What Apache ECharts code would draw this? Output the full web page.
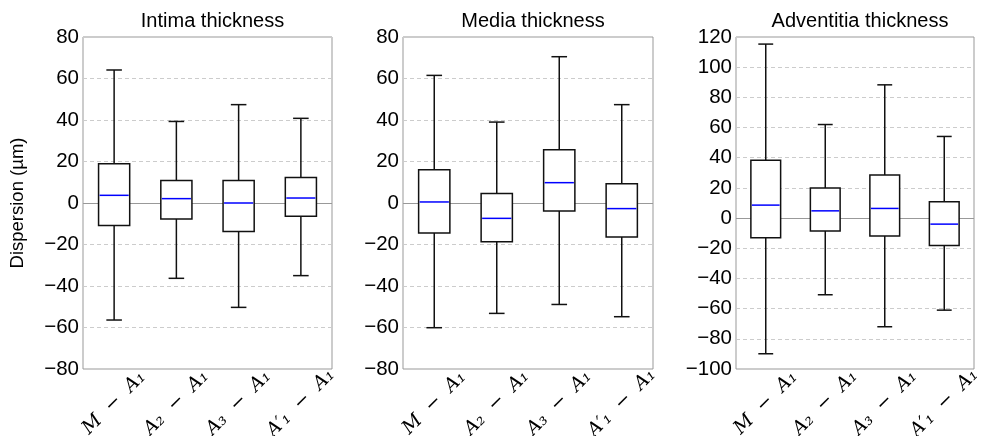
<!DOCTYPE html>
<html>
<head>
<meta charset="utf-8">
<script src="https://cdn.jsdelivr.net/npm/echarts@6/dist/echarts.min.js"></script>
<style>html,body{margin:0;padding:0;background:#fff}#c{width:986px;height:436px}</style>
</head>
<body>
<div id="c"></div>
<script>
// ---- data ----
const categories = ['M − A₁', 'A₂ − A₁', 'A₃ − A₁', 'A′₁ − A₁'];
const panelTitles = ['Intima thickness', 'Media thickness', 'Adventitia thickness'];
const yAxisName = 'Dispersion (µm)';
// each entry: [lower whisker, Q1, median, Q3, upper whisker]
const intima = [
  [-56.4, -10.9, 3.7, 18.9, 64.1],
  [-36.3, -7.7, 2.1, 10.9, 39.3],
  [-50.3, -13.7, 0.0, 10.9, 47.4],
  [-35.0, -6.4, 2.4, 12.3, 40.8]
];
const media = [
  [-60.1, -14.5, 0.5, 16.0, 61.5],
  [-53.2, -18.7, -7.4, 4.6, 39.0],
  [-48.9, -3.9, 9.8, 25.7, 70.5],
  [-54.8, -16.4, -2.7, 9.3, 47.4]
];
const adventitia = [
  [-89.9, -13.1, 8.6, 38.4, 115.3],
  [-50.8, -8.6, 4.8, 19.9, 62.0],
  [-72.0, -11.9, 6.4, 28.5, 88.3],
  [-61.0, -18.2, -4.0, 10.8, 54.1]
];
const yRanges = [[-80, 80], [-80, 80], [-100, 120]];
const yInterval = 20;

// ---- chart ----
const panels = [intima, media, adventitia];
const grids = [
  {left: 83, right: 654, top: 37, bottom: 67},
  {left: 403, right: 333, top: 37, bottom: 67},
  {left: 736, right: 12, top: 37, bottom: 67}
];
const sans = 'Liberation Sans, Arial, sans-serif';

function renderItem(params, api) {
  const x = api.value(0);
  const band = api.size([1, 0])[0];
  const bw = band * 0.5, cw = band * 0.25;
  const pLo = api.coord([x, api.value(1)]);
  const pQ1 = api.coord([x, api.value(2)]);
  const pMd = api.coord([x, api.value(3)]);
  const pQ3 = api.coord([x, api.value(4)]);
  const pHi = api.coord([x, api.value(5)]);
  const cx = pMd[0];
  const ls = {stroke: '#111', lineWidth: 1.5, fill: null};
  return {
    type: 'group',
    children: [
      {type: 'line', shape: {x1: cx, y1: pQ3[1], x2: cx, y2: pHi[1]}, style: ls},
      {type: 'line', shape: {x1: cx, y1: pQ1[1], x2: cx, y2: pLo[1]}, style: ls},
      {type: 'line', shape: {x1: cx - cw / 2, y1: pHi[1], x2: cx + cw / 2, y2: pHi[1]}, style: ls},
      {type: 'line', shape: {x1: cx - cw / 2, y1: pLo[1], x2: cx + cw / 2, y2: pLo[1]}, style: ls},
      {type: 'rect', shape: {x: cx - bw / 2, y: pQ3[1], width: bw, height: pQ1[1] - pQ3[1]},
        style: {stroke: '#111', lineWidth: 1.5, fill: '#fff'}},
      {type: 'line', shape: {x1: cx - bw / 2 + 1, y1: pMd[1], x2: cx + bw / 2 - 1, y2: pMd[1]},
        style: {stroke: '#0000ff', lineWidth: 1.5}}
    ]
  };
}

const option = {
  animation: false,
  backgroundColor: '#fff',
  title: panelTitles.map((t, i) => ({
    text: t,
    left: [207.5, 528, 855][i],
    top: 6,
    textAlign: 'center',
    textStyle: {fontFamily: sans, fontSize: 20, fontWeight: 'normal', color: '#000'}
  })),
  grid: grids.map(g => Object.assign({show: true, borderColor: '#999', borderWidth: 1,
    backgroundColor: '#fff', containLabel: false, outerBoundsMode: 'none'}, g)),
  xAxis: panels.map((p, i) => ({
    type: 'category',
    gridIndex: i,
    data: categories,
    boundaryGap: true,
    axisLine: {show: false},
    axisTick: {show: false},
    axisLabel: {
      rotate: 45,
      align: 'center',
      verticalAlign: 'middle',
      margin: 34,
      interval: 0,
      fontFamily: 'DejaVu Serif, serif',
      fontStyle: 'italic',
      fontSize: 19,
      color: '#000',
      formatter: v => v.replace(' − ', '  −  ')
    }
  })),
  yAxis: panels.map((p, i) => ({
    type: 'value',
    gridIndex: i,
    min: yRanges[i][0],
    max: yRanges[i][1],
    interval: yInterval,
    name: i === 0 ? yAxisName : '',
    nameLocation: 'middle',
    nameGap: 56,
    nameRotate: 90,
    nameTextStyle: {fontFamily: sans, fontSize: 18.5, color: '#000'},
    axisLine: {show: false},
    axisTick: {show: false},
    axisLabel: {
      margin: 4,
      fontFamily: sans,
      fontSize: 20.5,
      color: '#000',
      formatter: v => String(v).replace('-', '−')
    },
    splitLine: {show: true, lineStyle: {color: '#cccccc', type: [4, 3], width: 1}}
  })),
  series: panels.map((p, i) => ({
    type: 'custom',
    xAxisIndex: i,
    yAxisIndex: i,
    renderItem: renderItem,
    encode: {x: 0, y: [1, 2, 3, 4, 5]},
    data: p.map((d, k) => [k].concat(d)),
    z: 3,
    markLine: {
      silent: true,
      symbol: 'none',
      label: {show: false},
      lineStyle: {color: '#999', type: 'solid', width: 1},
      z: 1,
      data: [{yAxis: 0}]
    }
  }))
};

const chart = echarts.init(document.getElementById('c'), null, {renderer: 'canvas'});
chart.setOption(option);
</script>
</body>
</html>
